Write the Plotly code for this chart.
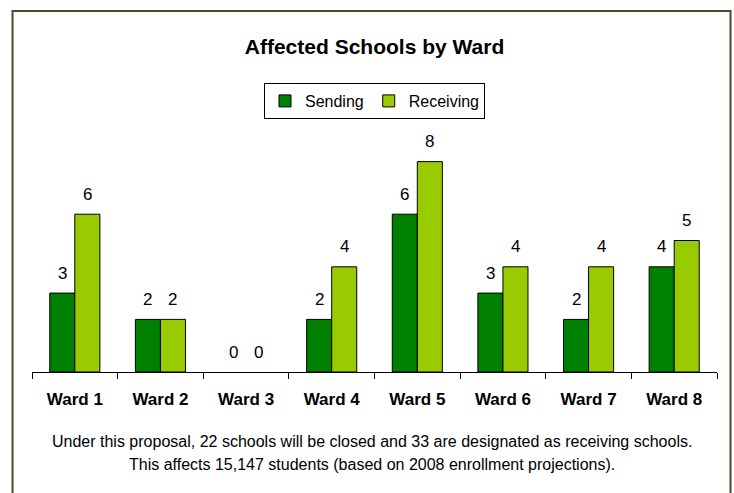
import plotly.graph_objects as go

wards = ["Ward 1", "Ward 2", "Ward 3", "Ward 4", "Ward 5", "Ward 6", "Ward 7", "Ward 8"]
sending = [3, 2, 0, 2, 6, 3, 2, 4]
receiving = [6, 2, 0, 4, 8, 4, 4, 5]

title_text = "Affected Schools by Ward"
note_line1 = "Under this proposal, 22 schools will be closed and 33 are designated as receiving schools."
note_line2 = "This affects 15,147 students (based on 2008 enrollment projections)."

FONT = "Arial, Liberation Sans, Helvetica, sans-serif"

W, H = 734, 493
ML, MR, MT, MB = 32, 17, 110, 121
plot_h = H - MT - MB
plot_w = W - ML - MR
px_per_unit = 26.3
ymax = plot_h / px_per_unit

def outline(vals):
    return [1 if v > 0 else 0 for v in vals]

fig = go.Figure()
fig.add_trace(go.Bar(name="Sending", x=wards, y=sending,
                     marker=dict(color="#008000", line=dict(color="black", width=outline(sending))),
                     hoverinfo="skip"))
fig.add_trace(go.Bar(name="Receiving", x=wards, y=receiving,
                     marker=dict(color="#99CC00", line=dict(color="black", width=outline(receiving))),
                     hoverinfo="skip"))

bar_px = plot_w / len(wards) * (1 - 0.415) / 2
annotations = []
for w, s, r in zip(wards, sending, receiving):
    for val, sh in ((s, -bar_px / 2), (r, bar_px / 2)):
        annotations.append(dict(x=w, y=val, xref="x", yref="y", text=str(val),
                                showarrow=False, xshift=sh, yshift=20,
                                yanchor="middle", xanchor="center",
                                font=dict(family=FONT, size=17, color="black")))

def py(page_y):
    return (H - MB - page_y) / plot_h

def pxx(page_x):
    return (page_x - ML) / plot_w

annotations.append(dict(text=note_line1, xref="paper", yref="paper", x=pxx(372), y=py(441),
                        showarrow=False, xanchor="center", yanchor="middle",
                        font=dict(family=FONT, size=16, color="black")))
annotations.append(dict(text=note_line2, xref="paper", yref="paper", x=pxx(372), y=py(464),
                        showarrow=False, xanchor="center", yanchor="middle",
                        font=dict(family=FONT, size=16, color="black")))

fig.update_layout(
    width=W, height=H,
    margin=dict(l=ML, r=MR, t=MT, b=MB, pad=0),
    paper_bgcolor="white", plot_bgcolor="white",
    barmode="group", bargap=0.415, bargroupgap=0,
    title=dict(text="<b>" + title_text + "</b>", x=0.5, xref="paper", xanchor="center",
               y=1 - 47 / H, yanchor="middle",
               font=dict(family=FONT, size=21, color="black")),
    showlegend=True,
    legend=dict(orientation="h", x=0.5, xanchor="center", y=py(83), yanchor="top",
                font=dict(family=FONT, size=16, color="black"),
                bordercolor="black", borderwidth=1, bgcolor="white",
                itemwidth=30, traceorder="normal"),
    xaxis=dict(showline=True, linecolor="black", linewidth=1,
               ticks="outside", tickson="boundaries", ticklen=6, tickcolor="black",
               ticklabelstandoff=12,
               showgrid=False, zeroline=False,
               tickfont=dict(family=FONT, size=17, color="black"),
               tickprefix="<b>", ticksuffix="</b>", fixedrange=True),
    yaxis=dict(range=[0, ymax], visible=False, showgrid=False, zeroline=False, fixedrange=True),
    annotations=annotations,
    shapes=[dict(type="rect", xref="paper", yref="paper",
                 x0=pxx(12.5), x1=pxx(730.5), y0=py(520), y1=py(11),
                 line=dict(color="#3E4E2C", width=2), fillcolor="rgba(0,0,0,0)", layer="below")],
)

fig.write_html("out.html", config={"displayModeBar": False},
               post_script="document.body.style.margin='0';document.body.style.overflow='hidden';")
